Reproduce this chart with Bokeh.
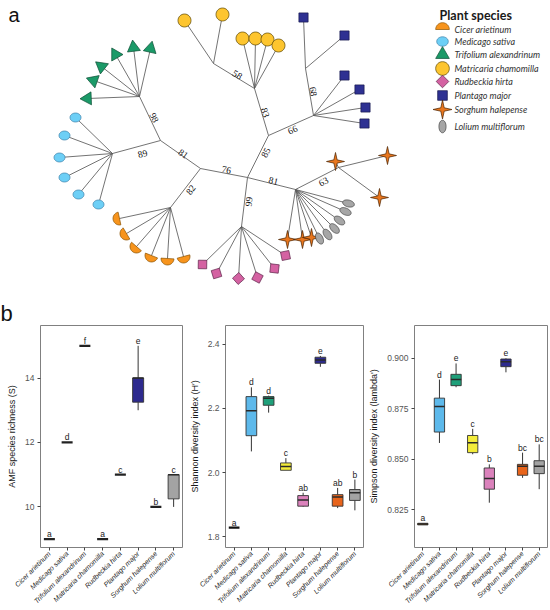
import math
from bokeh.plotting import figure
from bokeh.layouts import column, row
from bokeh.models import Range1d, FactorRange, FixedTicker, PrintfTickFormatter
from bokeh.core.properties import value
from bokeh.embed import file_html
from bokeh.resources import INLINE

# ---------------- data: species ----------------
species = ["Cicer arietinum", "Medicago sativa", "Trifolium alexandrinum", "Matricaria chamomilla",
           "Rudbeckia hirta", "Plantago major", "Sorghum halepense", "Lolium multiflorum"]
shapes = ["half", "oval", "triangle", "circle", "diamond", "square", "star", "ellipse"]
tree_fill = ["#F7941D", "#6DCFF6", "#1B9A68", "#FDC52F", "#D462A2", "#2E3192", "#E8761E", "#A6A6A6"]
tree_line = ["#8A5200", "#3D7EA6", "#0B4D33", "#5A4500", "#5C2347", "#15174D", "#4A2200", "#444444"]

# ---------------- data: tree (panel a), positions (px) ----------------
node_names = ["R", "N76", "N81L", "T", "M", "C", "RB", "N85", "MA", "MA2", "P", "P2", "S", "S2"]
node_parent = [None, "R", "N76", "N81L", "N81L", "N76", "R", "R", "N85", "MA", "N85", "P", "R", "S"]
node_x = [247, 200, 160, 139, 112, 170, 241, 268, 254, 213, 313, 305, 295, 338]
node_y = [177, 168, 140, 96, 153, 207, 226, 135, 88, 63, 115, 68, 189, 167]
node_support = ["", "76", "81", "98", "89", "82", "99", "85", "83", "58", "66", "68", "81", "63"]
support_x = [0, 226, 183, 154, 142, 190, 248, 265, 265, 237, 292, 313, 273, 323]
support_y = [0, 169, 153, 117, 153, 189, 201, 152, 112, 74, 129, 91, 180, 181]

tip_parent = ["T"] * 6 + ["M"] * 6 + ["C"] * 6 + ["RB"] * 6 + ["MA"] * 4 + ["MA2"] * 2 + \
             ["P2"] * 2 + ["P"] * 4 + ["S2"] * 3 + ["S"] * 3 + ["S"] * 6
tip_x = [87, 93, 101, 115, 133, 150,
         75, 64, 59, 64, 78, 98,
         119, 126, 136, 151, 167, 183,
         202, 216, 238, 257, 274, 285,
         242, 255, 267, 278, 184, 222,
         303, 344, 344, 359, 365, 364,
         335, 387, 379, 287, 302, 311,
         348, 345, 339, 334, 327, 319]
tip_y = [98, 80, 66, 54, 47, 48,
         117, 135, 157, 177, 194, 204,
         218, 233, 246, 255, 258, 256,
         264, 273, 278, 277, 268, 255,
         38, 38, 39, 45, 20, 14,
         17, 35, 75, 89, 107, 123,
         161, 155, 197, 239, 239, 237,
         203, 211, 220, 228, 234, 238]
tip_species = [2] * 6 + [1] * 6 + [0] * 6 + [4] * 6 + [3] * 6 + [5] * 6 + [6] * 6 + [7] * 6

# ---------------- data: box plots (panel b) ----------------
rich_min = [9, 12, 15, 9, 11, 13, 10, 10]
rich_q1 = [9, 12, 15, 9, 11, 13.25, 10, 10.25]
rich_med = [9, 12, 15, 9, 11, 14, 10, 11]
rich_q3 = [9, 12, 15, 9, 11, 14, 10, 11]
rich_max = [9, 12, 15, 9, 11, 15, 10, 11]
rich_letters = ["a", "d", "f", "a", "c", "e", "b", "c"]

shan_min = [1.828, 2.066, 2.187, 2.007, 1.893, 2.330, 1.889, 1.882]
shan_q1 = [1.828, 2.115, 2.210, 2.007, 1.895, 2.341, 1.895, 1.913]
shan_med = [1.828, 2.193, 2.232, 2.019, 1.914, 2.351, 1.924, 1.937]
shan_q3 = [1.828, 2.237, 2.237, 2.030, 1.928, 2.360, 1.931, 1.947]
shan_max = [1.828, 2.266, 2.240, 2.045, 1.937, 2.364, 1.952, 1.978]
shan_letters = ["a", "d", "d", "c", "ab", "e", "ab", "b"]

simp_min = [0.8175, 0.8581, 0.8857, 0.8525, 0.8285, 0.8931, 0.8408, 0.8352]
simp_q1 = [0.8175, 0.8635, 0.8865, 0.8533, 0.8352, 0.8959, 0.8421, 0.8429]
simp_med = [0.8179, 0.8762, 0.8895, 0.8582, 0.8405, 0.8984, 0.8465, 0.8465]
simp_q3 = [0.8183, 0.8803, 0.8921, 0.8618, 0.8457, 0.8997, 0.8475, 0.8493]
simp_max = [0.8183, 0.8895, 0.8975, 0.8651, 0.8475, 0.9000, 0.8533, 0.8574]
simp_letters = ["a", "d", "e", "c", "b", "e", "bc", "bc"]

box_fill = ["#B5680F", "#5DB9EB", "#1FA07A", "#F3EC3A", "#DB82BC", "#2D2A8E", "#E8641B", "#A3A3A3"]

# ---------------- panel a ----------------
pa = figure(width=550, height=298, x_range=Range1d(0, 550), y_range=Range1d(-298, 0),
            output_backend="svg", toolbar_location=None, x_axis_location=None, y_axis_location=None,
            min_border=0, min_border_left=0, min_border_right=0, min_border_top=0, min_border_bottom=0)
pa.grid.visible = False
pa.outline_line_color = None

pos = {n: (x, -y) for n, x, y in zip(node_names, node_x, node_y)}
ex0, ey0, ex1, ey1 = [], [], [], []
for n, par in zip(node_names, node_parent):
    if par:
        ex0.append(pos[par][0]); ey0.append(pos[par][1]); ex1.append(pos[n][0]); ey1.append(pos[n][1])
for par, x, y in zip(tip_parent, tip_x, tip_y):
    ex0.append(pos[par][0]); ey0.append(pos[par][1]); ex1.append(x); ey1.append(-y)
pa.segment(ex0, ey0, ex1, ey1, line_color="#5a5a5a", line_width=0.85)


def shape_poly(kind, cx, cy, th, s=1.0):
    pts = []
    if kind == "half":
        r = 6.5 * s
        for k in range(21):
            a = th - math.pi / 2 + math.pi * k / 20
            pts.append((cx + r * math.cos(a), cy + r * math.sin(a)))
    elif kind in ("oval", "ellipse", "circle"):
        if kind == "oval":
            A, B, rot = 5.5 * s, 4.5 * s, 0.0
        elif kind == "ellipse":
            A, B, rot = 6.0 * s, 3.4 * s, th
        else:
            A, B, rot = 6.5 * s, 6.5 * s, 0.0
        for k in range(32):
            t = 2 * math.pi * k / 32
            px, py = A * math.cos(t), B * math.sin(t)
            pts.append((cx + px * math.cos(rot) - py * math.sin(rot),
                        cy + px * math.sin(rot) + py * math.cos(rot)))
    elif kind == "triangle":
        R = 7.5 * s
        for k in range(3):
            a = th + 2 * math.pi * k / 3
            pts.append((cx + R * math.cos(a), cy + R * math.sin(a)))
    elif kind == "diamond":
        R = 6.0 * s
        for k in range(4):
            a = th + math.pi / 2 * k
            pts.append((cx + R * math.cos(a), cy + R * math.sin(a)))
    elif kind == "square":
        h = 4.6 * s
        pts = [(cx - h, cy - h), (cx + h, cy - h), (cx + h, cy + h), (cx - h, cy + h)]
    elif kind == "star":
        for k in range(8):
            a = math.pi / 4 * k
            r = (9.0 if k % 2 == 0 else 2.3) * s
            pts.append((cx + r * math.cos(a), cy + r * math.sin(a)))
    return [p[0] for p in pts], [p[1] for p in pts]


for si in range(len(species)):
    xs, ys = [], []
    for par, x, y, sp in zip(tip_parent, tip_x, tip_y, tip_species):
        if sp != si:
            continue
        px, py = pos[par]
        th = math.atan2(-y - py, x - px)
        a, b = shape_poly(shapes[si], x, -y, th)
        xs.append(a); ys.append(b)
    pa.patches(xs, ys, fill_color=tree_fill[si], line_color=tree_line[si], line_width=0.7)

# support values
sx, sy, st, sa = [], [], [], []
for n, par, lab, lx, ly in zip(node_names, node_parent, node_support, support_x, support_y):
    if not par:
        continue
    dx = pos[n][0] - pos[par][0]
    dy = pos[n][1] - pos[par][1]
    ang = math.atan2(dy, dx)
    if ang > math.pi / 2:
        ang -= math.pi
    if ang < -math.pi / 2:
        ang += math.pi
    sx.append(lx); sy.append(-ly); st.append(lab); sa.append(ang)
pa.text(sx, sy, text=st, angle=sa, text_align="center", text_baseline="middle",
        text_font=value("Liberation Serif"), text_font_size="9.5px", text_color="#111111")

# legend
legend_y = [29, 41, 54, 68, 81, 95, 109, 126]
pa.text([439], [-15], text=["Plant species"], text_font=value("Lato"), text_font_style="bold",
        text_font_size="12.5px", text_baseline="middle", text_align="left", text_color="#1a1a1a")
for si in range(len(species)):
    a, b = shape_poly(shapes[si], 442, -legend_y[si], math.pi / 2, 1.05)
    pa.patch(a, b, fill_color=tree_fill[si], line_color=tree_line[si], line_width=0.7)
pa.text([454] * len(species), [-v for v in legend_y], text=species, text_font=value("Lato"),
        text_font_style="italic", text_font_size="9px", text_baseline="middle",
        text_align="left", text_color="#333333")
pa.text([8], [-14], text=["a"], text_font=value("Liberation Sans"), text_font_size="20px",
        text_baseline="alphabetic", text_color="#111111")


# ---------------- panel b ----------------
def make_box(ylabel, mins, q1s, meds, q3s, maxs, letters, flat_colors, yr, ticks, fmt, w, bl, br):
    p = figure(width=w, height=312, x_range=FactorRange(*species), y_range=Range1d(*yr),
               output_backend="svg", toolbar_location=None,
               min_border_left=bl, min_border_right=br, min_border_top=26, min_border_bottom=62)
    p.grid.visible = False
    p.outline_line_color = "#808080"
    p.outline_line_width = 1
    n = len(species)
    flat = [i for i in range(n) if q3s[i] - q1s[i] < 1e-9]
    boxed = [i for i in range(n) if i not in flat]
    bx = [species[i] for i in boxed]
    # whiskers
    p.segment(bx, [q3s[i] for i in boxed], bx, [maxs[i] for i in boxed], line_color="#333333", line_width=1)
    p.segment(bx, [q1s[i] for i in boxed], bx, [mins[i] for i in boxed], line_color="#333333", line_width=1)
    p.vbar(x=bx, width=0.62, bottom=[q1s[i] for i in boxed], top=[q3s[i] for i in boxed],
           fill_color=[box_fill[i] for i in boxed], line_color="#333333", line_width=0.9)
    p.rect(x=bx, y=[meds[i] for i in boxed], width=0.62, height=1.5, height_units="screen",
           fill_color="#2a2a2a", line_color=None)
    fx = [species[i] for i in flat]
    p.rect(x=fx, y=[meds[i] for i in flat], width=0.62, height=2.2, height_units="screen",
           fill_color=[flat_colors[i] for i in flat], line_color=None)
    p.text(x=species, y=maxs, text=letters, y_offset=-5, text_align="center", text_baseline="alphabetic",
           text_font=value("Liberation Sans"), text_font_size="8.5px", text_color="#222222")
    ya = p.yaxis[0]
    ya.ticker = FixedTicker(ticks=ticks)
    ya.formatter = PrintfTickFormatter(format=fmt)
    ya.axis_label = ylabel
    ya.axis_label_text_font = "Liberation Sans"
    ya.axis_label_text_font_style = "normal"
    ya.axis_label_text_font_size = "9px"
    ya.axis_label_text_color = "#1a1a1a"
    ya.axis_label_standoff = 5
    ya.major_label_text_font = "Liberation Sans"
    ya.major_label_text_font_size = "8.5px"
    ya.major_label_text_color = "#555555"
    ya.major_label_standoff = 3
    ya.minor_tick_line_color = None
    ya.major_tick_in = 0
    ya.major_tick_out = 3
    ya.major_tick_line_color = "#444444"
    ya.axis_line_color = None
    xa = p.xaxis[0]
    xa.major_label_orientation = math.pi / 4
    xa.major_label_text_font = "Liberation Sans"
    xa.major_label_text_font_style = "italic"
    xa.major_label_text_font_size = "7px"
    xa.major_label_text_color = "#222222"
    xa.major_label_standoff = 2
    xa.major_tick_in = 0
    xa.major_tick_out = 3
    xa.major_tick_line_color = "#444444"
    xa.axis_line_color = None
    return p


dark = ["#222222"] * 8
f1 = make_box("AMF species richness (S)", rich_min, rich_q1, rich_med, rich_q3, rich_max, rich_letters,
              dark, (8.74, 15.63), [10, 12, 14], "%d", 186, 40, 4)
f2 = make_box("Shannon diversity index (H\u2032)", shan_min, shan_q1, shan_med, shan_q3, shan_max,
              shan_letters, ["#111111"] * 8, (1.766, 2.459), [1.8, 2.0, 2.2, 2.4], "%.1f", 180, 37, 3)
f3 = make_box("Simpson diversity index (lambda')", simp_min, simp_q1, simp_med, simp_q3, simp_max,
              simp_letters, box_fill, (0.8063, 0.9163), [0.825, 0.850, 0.875, 0.900], "%.3f", 184, 41, 3)

f1.title.text = "b"
f1.title.text_font = "Liberation Sans"
f1.title.text_font_size = "22px"
f1.title.text_font_style = "normal"
f1.title.text_color = "#111111"
f1.title.align = "left"
f1.title.offset = -40
f1.title.standoff = 0

layout = column(pa, row(f1, f2, f3))
open("out.html", "w").write(file_html(layout, INLINE))
